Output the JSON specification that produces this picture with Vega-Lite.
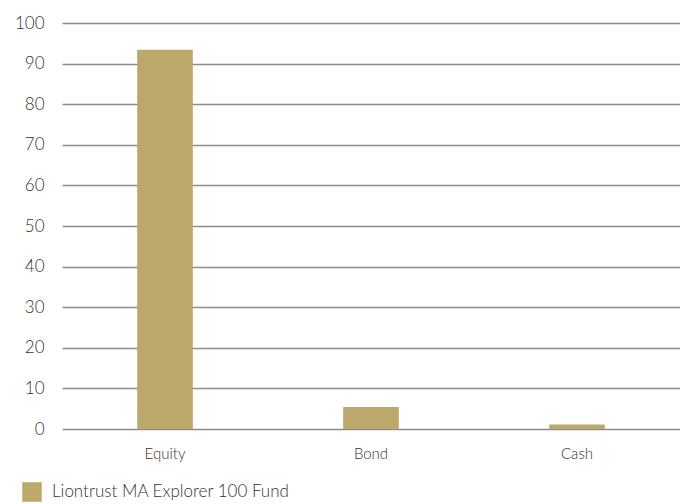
{
  "$schema": "https://vega.github.io/schema/vega-lite/v6.json",
  "width": 618,
  "height": 406,
  "autosize": {"type": "none"},
  "padding": {"left": 62, "top": 23, "right": 0, "bottom": 75},
  "background": "white",
  "config": {
    "view": {"stroke": null},
    "font": "Lato"
  },
  "data": {
    "values": [
      {"category": "Equity", "value": 93.4, "series": "Liontrust MA Explorer 100 Fund"},
      {"category": "Bond", "value": 5.4, "series": "Liontrust MA Explorer 100 Fund"},
      {"category": "Cash", "value": 1.1, "series": "Liontrust MA Explorer 100 Fund"}
    ]
  },
  "mark": {"type": "bar"},
  "encoding": {
    "x": {
      "field": "category",
      "type": "nominal",
      "sort": ["Equity", "Bond", "Cash"],
      "scale": {"paddingInner": 0.73, "paddingOuter": 0.365},
      "axis": {
        "title": null,
        "labelAngle": 0,
        "labelFontSize": 15,
        "labelFontWeight": 300,
        "labelColor": "#333333",
        "labelPadding": 17,
        "ticks": false,
        "domain": false
      }
    },
    "y": {
      "field": "value",
      "type": "quantitative",
      "scale": {"domain": [0, 100]},
      "axis": {
        "title": null,
        "values": [0, 10, 20, 30, 40, 50, 60, 70, 80, 90, 100],
        "labelFontSize": 17,
        "labelFontWeight": 300,
        "labelColor": "#333333",
        "labelPadding": 18,
        "ticks": false,
        "domain": false,
        "grid": true,
        "gridColor": "#8c8c8c",
        "gridWidth": 1.6
      }
    },
    "color": {
      "field": "series",
      "type": "nominal",
      "scale": {"range": ["#bba86a"]},
      "legend": {
        "title": null,
        "orient": "none",
        "legendX": -40,
        "legendY": 459,
        "symbolType": "square",
        "symbolSize": 380,
        "symbolStrokeWidth": 0,
        "labelFontSize": 17,
        "labelFontWeight": 300,
        "labelColor": "#333333",
        "labelOffset": 10,
        "labelLimit": 0
      }
    }
  }
}
